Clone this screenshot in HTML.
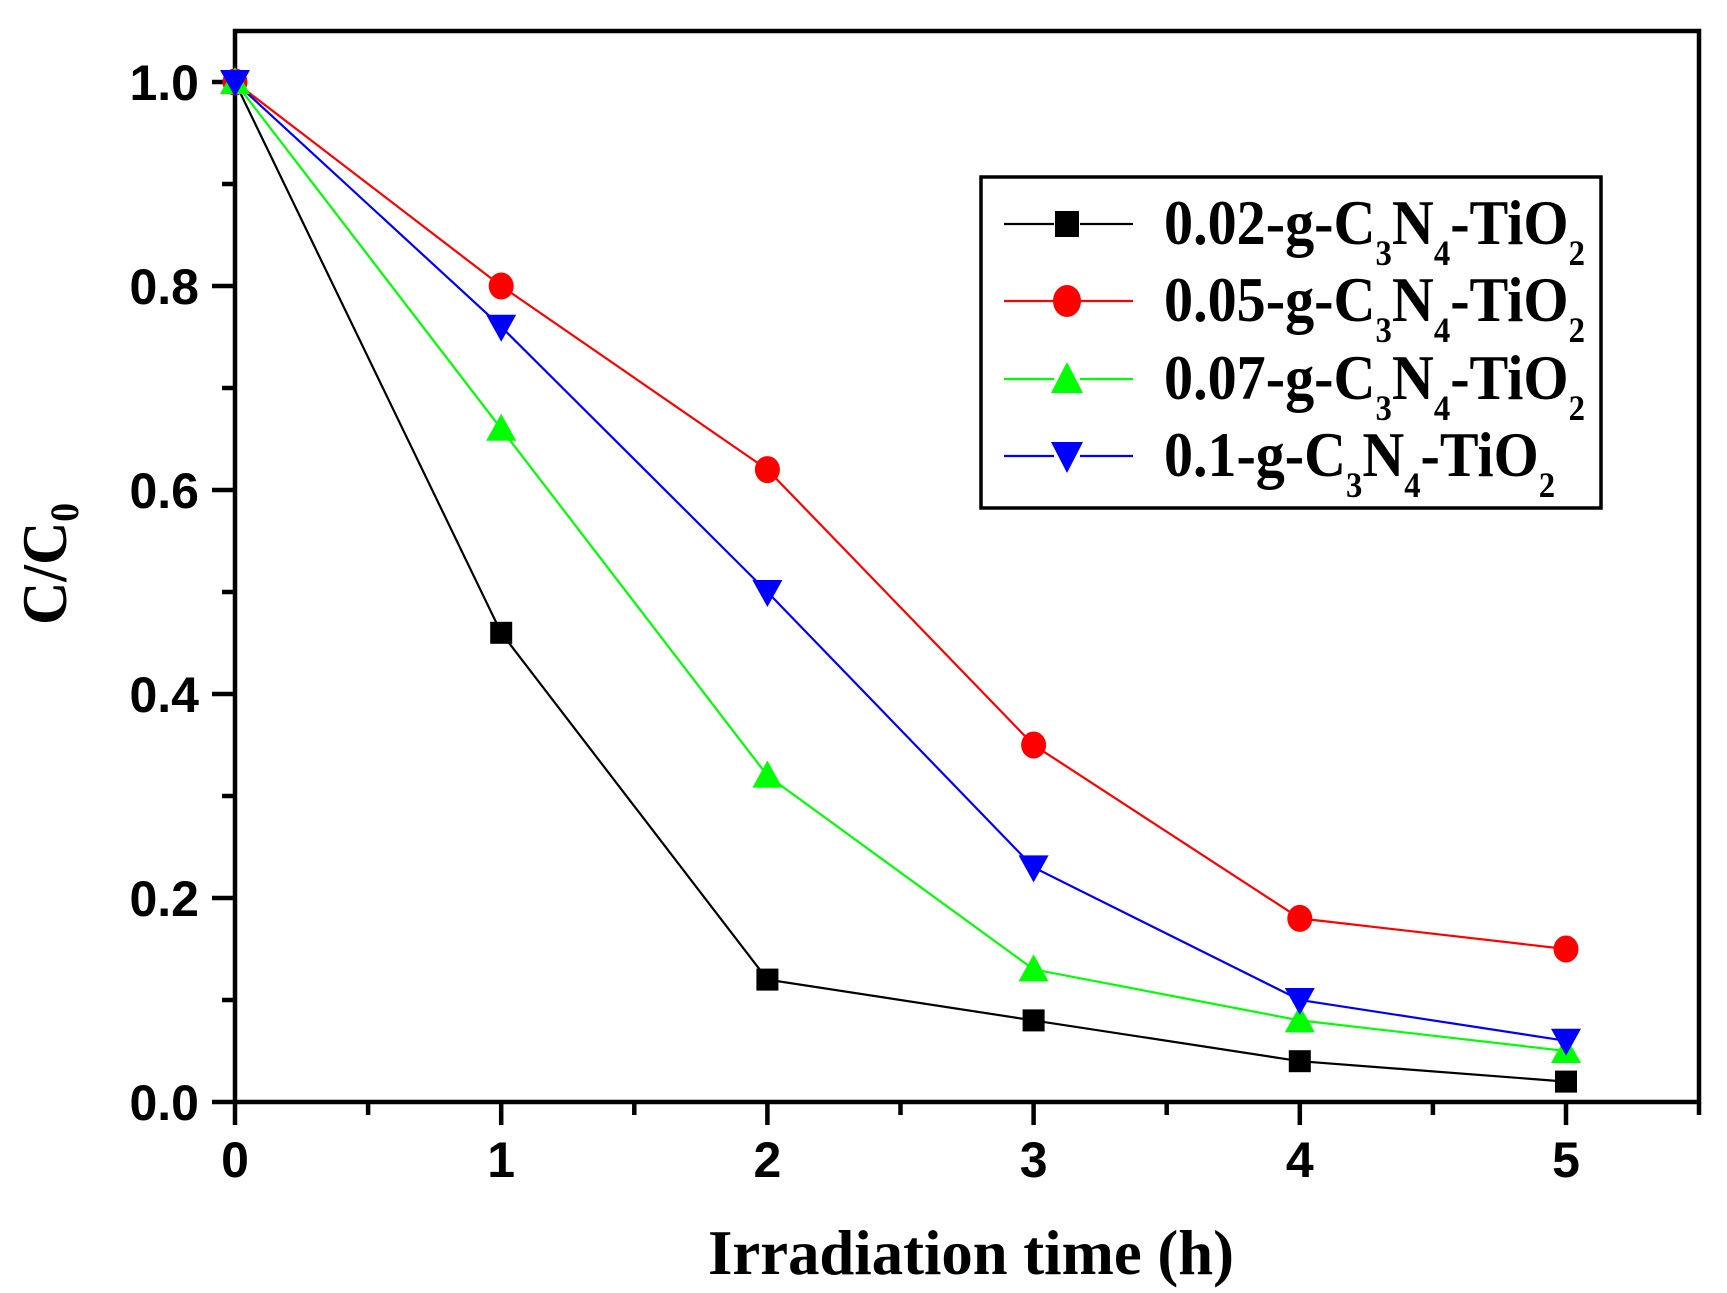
<!DOCTYPE html>
<html><head><meta charset="utf-8"><style>html,body{margin:0;padding:0;background:#fff}svg{display:block}</style></head>
<body>
<svg width="1727" height="1293" viewBox="0 0 1727 1293" xmlns="http://www.w3.org/2000/svg">
<rect width="1727" height="1293" fill="#fff"/>
<rect x="235" y="31" width="1464" height="1071" fill="none" stroke="#000" stroke-width="4.5"/>
<g stroke="#000" stroke-width="4.5">
<line x1="212" y1="1102" x2="235" y2="1102"/><line x1="212" y1="898" x2="235" y2="898"/><line x1="212" y1="694" x2="235" y2="694"/><line x1="212" y1="490" x2="235" y2="490"/><line x1="212" y1="286" x2="235" y2="286"/><line x1="212" y1="82" x2="235" y2="82"/>
<line x1="222" y1="1000" x2="235" y2="1000"/><line x1="222" y1="796" x2="235" y2="796"/><line x1="222" y1="592" x2="235" y2="592"/><line x1="222" y1="388" x2="235" y2="388"/><line x1="222" y1="184" x2="235" y2="184"/>
<line x1="235" y1="1102" x2="235" y2="1125"/><line x1="501.2" y1="1102" x2="501.2" y2="1125"/><line x1="767.4" y1="1102" x2="767.4" y2="1125"/><line x1="1033.6" y1="1102" x2="1033.6" y2="1125"/><line x1="1299.8" y1="1102" x2="1299.8" y2="1125"/><line x1="1566" y1="1102" x2="1566" y2="1125"/>
<line x1="368.1" y1="1102" x2="368.1" y2="1115"/><line x1="634.3" y1="1102" x2="634.3" y2="1115"/><line x1="900.5" y1="1102" x2="900.5" y2="1115"/><line x1="1166.7" y1="1102" x2="1166.7" y2="1115"/><line x1="1432.9" y1="1102" x2="1432.9" y2="1115"/><line x1="1699" y1="1102" x2="1699" y2="1115"/>
</g>
<g font-family="Liberation Sans, Arial, sans-serif" font-weight="bold" font-size="50" fill="#000">
<g text-anchor="end">
<text x="199" y="1120">0.0</text><text x="199" y="916">0.2</text><text x="199" y="712">0.4</text><text x="199" y="508">0.6</text><text x="199" y="304">0.8</text><text x="199" y="100">1.0</text>
</g>
<g text-anchor="middle">
<text x="235" y="1177">0</text><text x="501.2" y="1177">1</text><text x="767.4" y="1177">2</text><text x="1033.6" y="1177">3</text><text x="1299.8" y="1177">4</text><text x="1566" y="1177">5</text>
</g>
</g>
<g font-family="Liberation Serif, 'Times New Roman', serif" font-weight="bold" fill="#000">
<text x="708" y="1274" font-size="64" textLength="526" lengthAdjust="spacingAndGlyphs">Irradiation time (h)</text>
<text transform="translate(66,625) rotate(-90)" font-size="64" textLength="122" lengthAdjust="spacingAndGlyphs">C/C<tspan font-size="40" dy="12">0</tspan></text>
</g>
<g fill="none" stroke-width="2.2">
<polyline stroke="#000" points="235,82 501.2,632.8 767.4,979.6 1033.6,1020.4 1299.8,1061.2 1566,1081.6"/>
<polyline stroke="#f00" points="235,82 501.2,286 767.4,469.6 1033.6,745 1299.8,918.4 1566,949"/>
<polyline stroke="#0f0" points="235,82 501.2,428.8 767.4,775.6 1033.6,969.4 1299.8,1020.4 1566,1051"/>
<polyline stroke="#00f" points="235,82 501.2,326.8 767.4,592 1033.6,867.4 1299.8,1000 1566,1040.8"/>
</g>
<defs>
<rect id="sq" x="-11" y="-11" width="22" height="22" fill="#000"/>
<ellipse id="ci" rx="12.5" ry="13.5" fill="#f00"/>
<polygon id="tu" points="0,-15 15,12 -15,12" fill="#0f0"/>
<polygon id="td" points="-15,-12 15,-12 0,15" fill="#00f"/>
<rect id="sqL" x="-12" y="-13" width="24" height="26" fill="#000"/>
<ellipse id="ciL" rx="14" ry="16" fill="#f00"/>
<polygon id="tuL" points="0,-17 16,14 -16,14" fill="#0f0"/>
<polygon id="tdL" points="-16,-14 16,-14 0,17" fill="#00f"/>
</defs>
<g>
<use href="#sq" x="235" y="82"/><use href="#sq" x="501.2" y="632.8"/><use href="#sq" x="767.4" y="979.6"/><use href="#sq" x="1033.6" y="1020.4"/><use href="#sq" x="1299.8" y="1061.2"/><use href="#sq" x="1566" y="1081.6"/>
<use href="#ci" x="235" y="82"/><use href="#ci" x="501.2" y="286"/><use href="#ci" x="767.4" y="469.6"/><use href="#ci" x="1033.6" y="745"/><use href="#ci" x="1299.8" y="918.4"/><use href="#ci" x="1566" y="949"/>
<use href="#tu" x="235" y="82"/><use href="#tu" x="501.2" y="428.8"/><use href="#tu" x="767.4" y="775.6"/><use href="#tu" x="1033.6" y="969.4"/><use href="#tu" x="1299.8" y="1020.4"/><use href="#tu" x="1566" y="1051"/>
<use href="#td" x="235" y="82"/><use href="#td" x="501.2" y="326.8"/><use href="#td" x="767.4" y="592"/><use href="#td" x="1033.6" y="867.4"/><use href="#td" x="1299.8" y="1000"/><use href="#td" x="1566" y="1040.8"/>
</g>
<rect x="981" y="177" width="620" height="331" fill="#fff" stroke="#000" stroke-width="3.5"/>
<g stroke-width="2.2">
<line x1="1004" y1="224" x2="1054" y2="224" stroke="#000"/><line x1="1080" y1="224" x2="1133" y2="224" stroke="#000"/>
<line x1="1004" y1="301" x2="1054" y2="301" stroke="#f00"/><line x1="1080" y1="301" x2="1133" y2="301" stroke="#f00"/>
<line x1="1004" y1="379" x2="1054" y2="379" stroke="#0f0"/><line x1="1080" y1="379" x2="1133" y2="379" stroke="#0f0"/>
<line x1="1004" y1="456" x2="1054" y2="456" stroke="#00f"/><line x1="1080" y1="456" x2="1133" y2="456" stroke="#00f"/>
</g>
<use href="#sqL" x="1067" y="224"/><use href="#ciL" x="1067" y="301"/><use href="#tuL" x="1067" y="379"/><use href="#tdL" x="1067" y="456"/>
<g font-family="Liberation Serif, 'Times New Roman', serif" font-weight="bold" font-size="64" fill="#000">
<text x="1164" y="244" textLength="421" lengthAdjust="spacingAndGlyphs">0.02-g-C<tspan font-size="36" dy="21">3</tspan><tspan dy="-21">N</tspan><tspan font-size="36" dy="21">4</tspan><tspan dy="-21">-TiO</tspan><tspan font-size="36" dy="21">2</tspan></text>
<text x="1164" y="321" textLength="421" lengthAdjust="spacingAndGlyphs">0.05-g-C<tspan font-size="36" dy="21">3</tspan><tspan dy="-21">N</tspan><tspan font-size="36" dy="21">4</tspan><tspan dy="-21">-TiO</tspan><tspan font-size="36" dy="21">2</tspan></text>
<text x="1164" y="399" textLength="421" lengthAdjust="spacingAndGlyphs">0.07-g-C<tspan font-size="36" dy="21">3</tspan><tspan dy="-21">N</tspan><tspan font-size="36" dy="21">4</tspan><tspan dy="-21">-TiO</tspan><tspan font-size="36" dy="21">2</tspan></text>
<text x="1164" y="476" textLength="391" lengthAdjust="spacingAndGlyphs">0.1-g-C<tspan font-size="36" dy="21">3</tspan><tspan dy="-21">N</tspan><tspan font-size="36" dy="21">4</tspan><tspan dy="-21">-TiO</tspan><tspan font-size="36" dy="21">2</tspan></text>
</g>
</svg>
</body></html>
